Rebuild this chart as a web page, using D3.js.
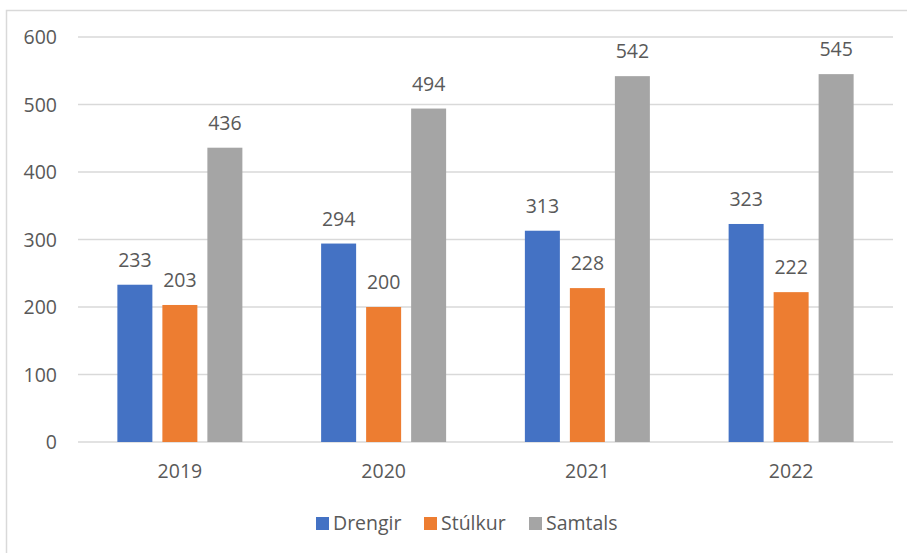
<!DOCTYPE html>
<html>
<head>
<meta charset="utf-8">
<script src="https://cdn.jsdelivr.net/npm/d3@7"></script>
<style>
  body { margin: 0; background: #fff; }
  text { font-family: "Open Sans", "Noto Sans", sans-serif; fill: #595959; }
</style>
</head>
<body>
<script>
var years = ["2019", "2020", "2021", "2022"];
var seriesNames = ["Drengir", "Stúlkur", "Samtals"];
var drengir = [233, 294, 313, 323];
var stulkur = [203, 200, 228, 222];
var samtals = [436, 494, 542, 545];
var yTicks = [0, 100, 200, 300, 400, 500, 600];
var colors = ["#4472C4", "#ED7D31", "#A5A5A5"];

var values = [drengir, stulkur, samtals];
var fs = 19.5;

var svg = d3.select("body").append("svg")
  .attr("width", 907)
  .attr("height", 553);

// chart frame
svg.append("rect")
  .attr("x", 6.5)
  .attr("y", 10.5)
  .attr("width", 940)
  .attr("height", 600)
  .attr("fill", "none")
  .attr("stroke", "#d9d9d9")
  .attr("stroke-width", 1.5);

var x0 = d3.scaleBand()
  .domain(years)
  .range([78, 893]);

var x1 = d3.scaleBand()
  .domain(seriesNames)
  .range([-67.5, 67.5])
  .paddingInner(10 / 45)
  .paddingOuter(5 / 45);

var y = d3.scaleLinear()
  .domain([0, 600])
  .range([442, 37]);

// gridlines
svg.append("g")
  .selectAll("line")
  .data(yTicks)
  .join("line")
  .attr("x1", 78)
  .attr("x2", 893)
  .attr("y1", d => y(d))
  .attr("y2", d => y(d))
  .attr("stroke", "#d9d9d9")
  .attr("stroke-width", 1.5);

// y axis labels
var yAxis = svg.append("g")
  .attr("transform", "translate(57,0)")
  .call(d3.axisLeft(y).tickValues(yTicks).tickSize(0).tickPadding(0));
yAxis.select(".domain").remove();
yAxis.selectAll("text")
  .attr("font-size", fs)
  .attr("font-family", null)
  .attr("dy", "0.35em");

// x axis labels
var xAxis = svg.append("g")
  .attr("transform", "translate(0,442)")
  .call(d3.axisBottom(x0).tickSize(0).tickPadding(0));
xAxis.select(".domain").remove();
xAxis.selectAll("text")
  .attr("font-size", fs)
  .attr("font-family", null)
  .attr("dy", null)
  .attr("y", 36);

// bars
var groups = svg.append("g")
  .selectAll("g")
  .data(years)
  .join("g")
  .attr("transform", d => "translate(" + (x0(d) + x0.bandwidth() / 2) + ",0)");

groups.selectAll("rect")
  .data((d, i) => seriesNames.map((s, j) => ({ s: s, j: j, v: values[j][i] })))
  .join("rect")
  .attr("x", d => x1(d.s))
  .attr("width", x1.bandwidth())
  .attr("y", d => y(d.v))
  .attr("height", d => y(0) - y(d.v))
  .attr("fill", d => colors[d.j]);

groups.selectAll("text.lbl")
  .data((d, i) => seriesNames.map((s, j) => ({ s: s, j: j, v: values[j][i] })))
  .join("text")
  .attr("class", "lbl")
  .attr("x", d => x1(d.s) + x1.bandwidth() / 2)
  .attr("y", d => y(d.v) - 18)
  .attr("text-anchor", "middle")
  .attr("font-size", fs)
  .text(d => d.v);

// legend
var legendX = [316, 424, 529];
var legend = svg.append("g")
  .selectAll("g")
  .data(seriesNames)
  .join("g")
  .attr("transform", (d, i) => "translate(" + legendX[i] + ",517)");

legend.append("rect")
  .attr("width", 13)
  .attr("height", 13)
  .attr("fill", (d, i) => colors[i]);

legend.append("text")
  .attr("x", 17)
  .attr("y", 13)
  .attr("font-size", fs)
  .text(d => d);
</script>
</body>
</html>
